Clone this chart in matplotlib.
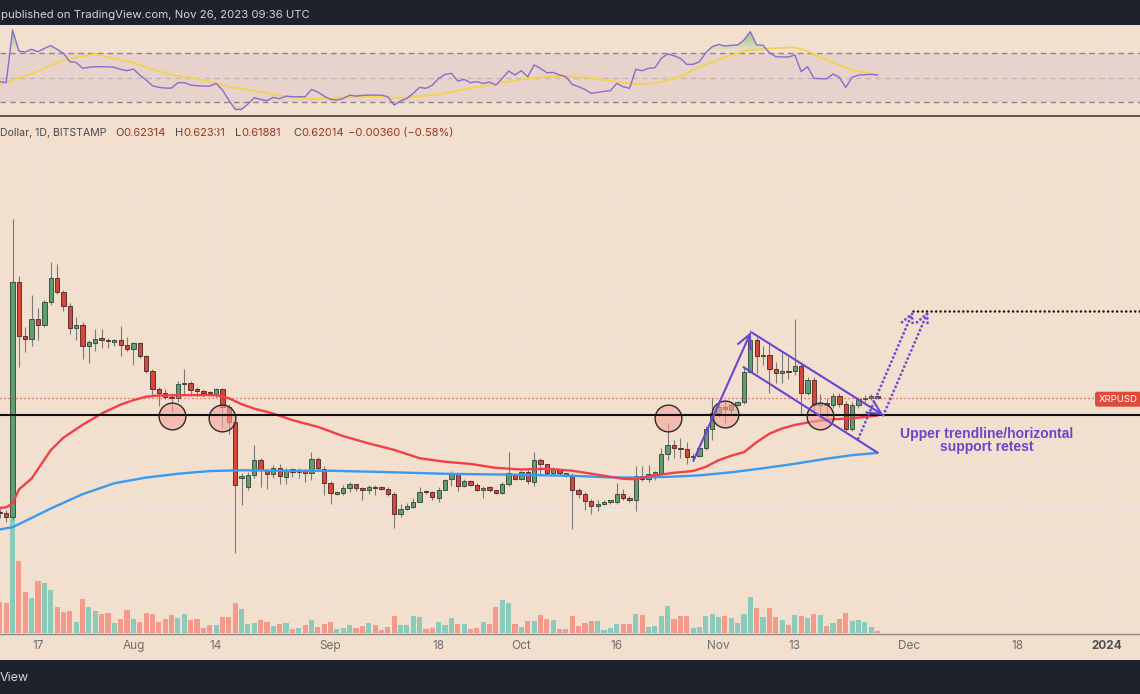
import numpy as np
import pandas as pd
import matplotlib
matplotlib.use("Agg")
import matplotlib.pyplot as plt
import matplotlib.dates as mdates
import matplotlib.transforms as mtransforms
from matplotlib.patches import Rectangle, FancyBboxPatch
from matplotlib.lines import Line2D
from matplotlib.path import Path
from matplotlib.ticker import NullLocator

# ---------------- data ----------------
start_date = "2023-07-11"
opens = [0.477, 0.475, 0.471, 0.812, 0.716, 0.711, 0.744, 0.734, 0.775, 0.818,
         0.793, 0.767, 0.730, 0.735, 0.700, 0.705, 0.712, 0.710, 0.707, 0.709,
         0.701, 0.695, 0.704, 0.683, 0.661, 0.634, 0.627, 0.622, 0.620, 0.641,
         0.642, 0.632, 0.631, 0.628, 0.624, 0.633, 0.608, 0.587, 0.516, 0.505,
         0.519, 0.538, 0.525, 0.520, 0.528, 0.517, 0.526, 0.523, 0.524, 0.522,
         0.539, 0.527, 0.510, 0.497, 0.498, 0.504, 0.508, 0.504, 0.502, 0.505,
         0.504, 0.503, 0.497, 0.474, 0.480, 0.482, 0.488, 0.500, 0.499, 0.492,
         0.502, 0.514, 0.520, 0.506, 0.512, 0.507, 0.501, 0.505, 0.501, 0.498,
         0.509, 0.519, 0.514, 0.523, 0.511, 0.537, 0.532, 0.522, 0.526, 0.521,
         0.518, 0.502, 0.497, 0.489, 0.483, 0.486, 0.488, 0.488, 0.497, 0.492,
         0.490, 0.518, 0.514, 0.520, 0.522, 0.545, 0.557, 0.553, 0.551, 0.541,
         0.543, 0.553, 0.577, 0.599, 0.608, 0.604, 0.611, 0.614, 0.659, 0.710,
         0.684, 0.686, 0.664, 0.657, 0.661, 0.660, 0.668, 0.628, 0.647, 0.611,
         0.613, 0.610, 0.623, 0.612, 0.578, 0.610, 0.619, 0.621, 0.62314]
highs = [0.480, 0.479, 0.938, 0.822, 0.731, 0.787, 0.764, 0.779, 0.850, 0.846,
         0.797, 0.772, 0.749, 0.740, 0.709, 0.727, 0.728, 0.713, 0.711, 0.733,
         0.715, 0.706, 0.706, 0.686, 0.663, 0.636, 0.634, 0.627, 0.646, 0.664,
         0.646, 0.637, 0.633, 0.631, 0.635, 0.635, 0.612, 0.590, 0.522, 0.523,
         0.556, 0.540, 0.527, 0.531, 0.532, 0.528, 0.528, 0.528, 0.527, 0.548,
         0.541, 0.530, 0.512, 0.500, 0.507, 0.511, 0.509, 0.505, 0.507, 0.507,
         0.506, 0.505, 0.499, 0.485, 0.487, 0.492, 0.505, 0.502, 0.500, 0.505,
         0.514, 0.524, 0.521, 0.514, 0.513, 0.510, 0.506, 0.506, 0.502, 0.511,
         0.548, 0.520, 0.525, 0.525, 0.547, 0.540, 0.533, 0.529, 0.527, 0.522,
         0.521, 0.504, 0.499, 0.491, 0.490, 0.490, 0.490, 0.510, 0.503, 0.495,
         0.530, 0.530, 0.531, 0.524, 0.553, 0.585, 0.563, 0.566, 0.560, 0.546,
         0.557, 0.582, 0.620, 0.618, 0.618, 0.615, 0.616, 0.668, 0.726, 0.714,
         0.700, 0.703, 0.675, 0.690, 0.682, 0.745, 0.672, 0.652, 0.652, 0.626,
         0.620, 0.627, 0.628, 0.616, 0.614, 0.622, 0.625, 0.626, 0.62331]
lows = [0.470, 0.466, 0.468, 0.667, 0.690, 0.700, 0.709, 0.731, 0.770, 0.790,
        0.759, 0.719, 0.710, 0.679, 0.673, 0.692, 0.697, 0.697, 0.700, 0.683,
        0.692, 0.669, 0.680, 0.658, 0.624, 0.609, 0.619, 0.600, 0.615, 0.624,
        0.623, 0.623, 0.622, 0.624, 0.622, 0.579, 0.571, 0.433, 0.484, 0.502,
        0.516, 0.505, 0.503, 0.515, 0.508, 0.508, 0.517, 0.516, 0.511, 0.513,
        0.524, 0.496, 0.485, 0.496, 0.496, 0.499, 0.500, 0.490, 0.497, 0.496,
        0.502, 0.495, 0.459, 0.471, 0.479, 0.481, 0.488, 0.497, 0.490, 0.488,
        0.501, 0.506, 0.500, 0.505, 0.506, 0.500, 0.492, 0.499, 0.497, 0.497,
        0.506, 0.513, 0.513, 0.508, 0.506, 0.520, 0.520, 0.518, 0.519, 0.517,
        0.458, 0.492, 0.479, 0.474, 0.478, 0.484, 0.486, 0.485, 0.490, 0.488,
        0.478, 0.512, 0.511, 0.513, 0.520, 0.537, 0.540, 0.540, 0.533, 0.538,
        0.541, 0.550, 0.563, 0.594, 0.586, 0.596, 0.609, 0.612, 0.657, 0.657,
        0.670, 0.627, 0.642, 0.642, 0.648, 0.655, 0.596, 0.624, 0.598, 0.589,
        0.590, 0.606, 0.608, 0.575, 0.575, 0.606, 0.615, 0.617, 0.61881]
closes = [0.475, 0.471, 0.812, 0.716, 0.711, 0.744, 0.734, 0.775, 0.818, 0.793,
          0.767, 0.730, 0.735, 0.700, 0.706, 0.711, 0.710, 0.708, 0.709, 0.702,
          0.695, 0.704, 0.683, 0.661, 0.634, 0.627, 0.622, 0.620, 0.641, 0.643,
          0.632, 0.631, 0.628, 0.627, 0.633, 0.608, 0.587, 0.507, 0.518, 0.519,
          0.538, 0.525, 0.520, 0.528, 0.518, 0.525, 0.523, 0.524, 0.522, 0.539,
          0.528, 0.510, 0.498, 0.499, 0.504, 0.508, 0.504, 0.502, 0.505, 0.504,
          0.503, 0.497, 0.474, 0.480, 0.483, 0.488, 0.499, 0.499, 0.493, 0.502,
          0.513, 0.520, 0.506, 0.512, 0.507, 0.501, 0.504, 0.501, 0.498, 0.509,
          0.521, 0.514, 0.523, 0.512, 0.538, 0.532, 0.522, 0.526, 0.522, 0.518,
          0.502, 0.497, 0.489, 0.483, 0.486, 0.488, 0.489, 0.497, 0.492, 0.490,
          0.518, 0.514, 0.520, 0.523, 0.545, 0.557, 0.553, 0.551, 0.541, 0.543,
          0.553, 0.577, 0.599, 0.608, 0.605, 0.611, 0.614, 0.659, 0.710, 0.684,
          0.686, 0.664, 0.657, 0.660, 0.659, 0.668, 0.628, 0.647, 0.611, 0.613,
          0.610, 0.623, 0.612, 0.578, 0.610, 0.619, 0.621, 0.62374, 0.62014]
volumes = [95, 90, 345, 218, 123, 107, 156, 151, 130, 80,
           65, 68, 34, 103, 80, 66, 57, 61, 32, 42,
           70, 42, 35, 60, 57, 35, 42, 55, 45, 58,
           41, 42, 15, 25, 25, 48, 49, 90, 73, 29,
           31, 40, 34, 23, 28, 32, 12, 15, 25, 40,
           19, 29, 35, 12, 15, 24, 16, 22, 32, 25,
           10, 20, 51, 26, 26, 52, 48, 12, 16, 35,
           26, 47, 29, 28, 13, 16, 34, 28, 80, 100,
           92, 28, 20, 38, 38, 54, 43, 40, 13, 13,
           51, 22, 31, 37, 38, 10, 16, 28, 28, 28,
           58, 55, 18, 22, 51, 82, 42, 51, 51, 16,
           19, 51, 58, 48, 51, 45, 32, 57, 109, 76,
           48, 76, 49, 40, 25, 55, 52, 45, 57, 55,
           22, 30, 42, 61, 38, 40, 35, 20, 8]
rsi_values = [46.8, 46.0, 88.6, 71.6, 70.8, 73.0, 71.0, 73.8, 76.0, 73.0,
              69.7, 63.0, 62.4, 57.6, 58.4, 58.9, 58.9, 58.9, 58.4, 56.8,
              55.7, 57.0, 52.2, 48.1, 43.5, 42.2, 41.6, 41.6, 46.0, 46.0,
              44.0, 43.5, 43.2, 43.2, 45.4, 40.0, 31.9, 24.3, 24.3, 28.6,
              33.8, 32.4, 31.4, 34.0, 33.0, 35.1, 34.6, 34.6, 34.6, 40.5,
              38.4, 35.1, 32.4, 31.9, 33.2, 35.9, 35.1, 35.7, 35.9, 35.9,
              35.9, 34.6, 27.8, 31.1, 33.2, 37.3, 42.2, 41.4, 44.0, 49.5,
              52.7, 53.5, 47.3, 48.6, 46.0, 46.8, 45.4, 46.5, 44.0, 49.5,
              55.4, 52.2, 55.7, 50.8, 60.3, 57.6, 54.0, 54.3, 52.2, 50.8,
              44.6, 42.7, 40.5, 37.3, 38.1, 38.9, 39.5, 45.4, 42.7, 41.4,
              56.8, 55.7, 57.6, 58.1, 65.7, 69.2, 67.8, 65.7, 60.8, 60.8,
              63.0, 70.3, 75.1, 77.0, 75.7, 76.2, 76.5, 80.5, 87.3, 76.5,
              76.2, 70.3, 67.0, 66.8, 66.8, 68.4, 54.9, 58.9, 49.5, 49.2,
              49.2, 53.0, 50.3, 42.2, 50.3, 52.2, 52.4, 52.7, 52.2]
rsi_ma_dates = ["2023-07-11", "2023-07-13", "2023-07-16", "2023-07-18", "2023-07-21",
                "2023-07-24", "2023-07-26", "2023-07-28", "2023-08-01", "2023-08-04",
                "2023-08-07", "2023-08-12", "2023-08-16", "2023-08-21", "2023-08-25",
                "2023-08-29", "2023-09-03", "2023-09-08", "2023-09-12", "2023-09-18",
                "2023-09-23", "2023-09-28", "2023-10-02", "2023-10-07", "2023-10-11",
                "2023-10-16", "2023-10-19", "2023-10-22", "2023-10-26", "2023-10-29",
                "2023-11-02", "2023-11-05", "2023-11-09", "2023-11-13", "2023-11-15",
                "2023-11-18", "2023-11-22", "2023-11-26"]
rsi_ma_values = [44.9, 48.1, 53.0, 57.6, 64.3, 67.6, 69.2, 66.5, 62.2, 56.8,
                 52.2, 48.1, 42.7, 38.6, 34.6, 32.7, 34.0, 35.1, 33.5, 36.5,
                 41.4, 46.0, 49.5, 51.4, 50.3, 46.8, 44.9, 45.4, 50.8, 58.9,
                 66.5, 71.6, 73.8, 74.6, 71.5, 64.3, 56.2, 52.2]
ma50_dates = ["2023-07-11", "2023-07-12", "2023-07-13", "2023-07-14", "2023-07-16",
              "2023-07-19", "2023-07-21", "2023-07-24", "2023-07-27", "2023-07-30",
              "2023-08-01", "2023-08-03", "2023-08-05", "2023-08-10", "2023-08-14",
              "2023-08-16", "2023-08-18", "2023-08-20", "2023-08-23", "2023-08-26",
              "2023-08-30", "2023-09-03", "2023-09-07", "2023-09-11", "2023-09-15",
              "2023-09-19", "2023-09-23", "2023-09-27", "2023-10-01", "2023-10-05",
              "2023-10-09", "2023-10-13", "2023-10-17", "2023-10-19", "2023-10-21",
              "2023-10-25", "2023-10-28", "2023-10-30", "2023-11-01", "2023-11-03",
              "2023-11-05", "2023-11-07", "2023-11-09", "2023-11-11", "2023-11-13",
              "2023-11-16", "2023-11-19", "2023-11-22", "2023-11-26"]
ma50_values = [0.481, 0.4818, 0.486, 0.502, 0.515,
               0.5498, 0.566, 0.583, 0.5984, 0.611,
               0.6173, 0.6223, 0.6240, 0.6245, 0.6245,
               0.6201, 0.6116, 0.6053, 0.5984, 0.5894,
               0.5803, 0.5680, 0.5585, 0.5502, 0.5397,
               0.5353, 0.5326, 0.5278, 0.5258, 0.5267,
               0.5243, 0.5195, 0.5146, 0.5140, 0.5177,
               0.5218, 0.5240, 0.5290, 0.5372, 0.5428,
               0.5473, 0.5601, 0.5712, 0.5782, 0.5829,
               0.5877, 0.5905, 0.5920, 0.5957]
ma200_dates = ["2023-07-11", "2023-07-13", "2023-07-15", "2023-07-19", "2023-07-24",
               "2023-07-29", "2023-08-03", "2023-08-08", "2023-08-13", "2023-08-18",
               "2023-08-25", "2023-09-01", "2023-09-09", "2023-09-19", "2023-09-29",
               "2023-10-09", "2023-10-15", "2023-10-19", "2023-10-24", "2023-10-29",
               "2023-11-03", "2023-11-08", "2023-11-13", "2023-11-18", "2023-11-22",
               "2023-11-26"]
ma200_values = [0.4577, 0.4601, 0.4667, 0.4804, 0.4966,
                0.5093, 0.5161, 0.5206, 0.5239, 0.5249,
                0.5243, 0.5243, 0.5228, 0.5206, 0.5196,
                0.5182, 0.5163, 0.5160, 0.5169, 0.5187,
                0.5224, 0.5273, 0.5328, 0.5391, 0.5435,
                0.5464]
support_level = 0.597
last_close = 0.62014
target_level = 0.759
circle_dates = ["2023-08-07", "2023-08-15", "2023-10-24", "2023-11-02", "2023-11-17"]
circle_prices = [0.5948, 0.5917, 0.5930, 0.5976, 0.5952]
impulse_dates = ["2023-10-28 01:00", "2023-11-06 02:00"]
impulse_prices = [0.5364, 0.7225]
upper_dates = ["2023-11-06 05:00", "2023-11-26 22:00"]
upper_prices = [0.7220, 0.5962]
lower_dates = ["2023-11-04 22:00", "2023-11-26 00:00"]
lower_prices = [0.6663, 0.5467]
path_a_dates = ["2023-11-22 23:30", "2023-12-01 15:00"]
path_a_prices = [0.5649, 0.7590]
path_b_dates = ["2023-11-26 22:00", "2023-12-03 23:45"]
path_b_prices = [0.5962, 0.7590]
target_dates = ["2023-12-01 15:00", "2024-01-06 06:30"]
note_date = "2023-12-13 05:00"
note_price = 0.5620
tick_dates = ["2023-07-17", "2023-08-01", "2023-08-14", "2023-09-01", "2023-09-18",
              "2023-10-01", "2023-10-16", "2023-11-01", "2023-11-13", "2023-12-01",
              "2023-12-18", "2024-01-01"]
tick_labels = ["17", "Aug", "14", "Sep", "18", "Oct", "16", "Nov", "13", "Dec", "18", "2024"]
price_grid = [1.091, 0.992, 0.896, 0.795, 0.698, 0.637, 0.559, 0.520, 0.479,
              0.451, 0.421, 0.390, 0.367]
legend_labels = ["O", "H", "L", "C"]
legend_values = ["0.62314", "0.62331", "0.61881", "0.62014"]
legend_change = "\u22120.00360 (\u22120.58%)"
x_range = ["2023-07-11 00:36", "2024-01-06 06:30"]

# ---------------- styling ----------------
W, H = 1140, 694
BG = "#f2dfce"
GRID = "#ede5df"
PURPLE = "#6a45cf"
UI_FONT = ["Inter", "DejaVu Sans"]

def fx(x):
    return x / W

def fy(y):
    return 1 - y / H

fig = plt.figure(figsize=(W / 100, H / 100), dpi=100, facecolor=BG)

dates = pd.date_range(start_date, periods=len(opens), freq="D")
xd = mdates.date2num(dates)
xlim = mdates.date2num(pd.to_datetime(x_range))
ticks = mdates.date2num(pd.to_datetime(tick_dates))

o = np.array(opens); h = np.array(highs); l = np.array(lows); c = np.array(closes)
up = c >= o

# ---------------- RSI panel ----------------
ax_rsi = fig.add_axes([0, fy(114), 1, 89 / H])
ax_rsi.patch.set_alpha(0)
ax_rsi.set_xlim(xlim)
ax_rsi.set_ylim(20.6, 92.7)
for s in ax_rsi.spines.values():
    s.set_visible(False)
ax_rsi.set_xticks([]); ax_rsi.set_yticks([])
for t in ticks:
    ax_rsi.axvline(t, color=GRID, lw=1, zorder=0)
for g in (25, 75):
    ax_rsi.axhline(g, color=GRID, lw=1, zorder=0)
ax_rsi.axhspan(30, 70, color="#7e57c2", alpha=0.09, lw=0, zorder=0.5)
ax_rsi.axhline(70, color="#8a8888", lw=1, ls=(0, (4, 3)), zorder=1)
ax_rsi.axhline(30, color="#8a8888", lw=1, ls=(0, (4, 3)), zorder=1)
ax_rsi.axhline(50, color="#c4b4b8", lw=1, ls=(0, (4, 3)), zorder=1)

r = np.array(rsi_values)
over = ax_rsi.fill_between(xd, 70, r, where=r >= 70, interpolate=True,
                           facecolor="none", edgecolor="none")
under = ax_rsi.fill_between(xd, 30, r, where=r <= 30, interpolate=True,
                            facecolor="none", edgecolor="none")
grad_g = np.zeros((256, 1, 4)); grad_g[..., :3] = (0.30, 0.69, 0.31)
grad_g[:, 0, 3] = np.linspace(0, 0.95, 256)
grad_r = np.zeros((256, 1, 4)); grad_r[..., :3] = (0.95, 0.21, 0.27)
grad_r[:, 0, 3] = np.linspace(0.9, 0, 256)
for coll, grad, ext in ((over, grad_g, (70, 100)), (under, grad_r, (0, 30))):
    paths = coll.get_paths()
    if len(paths):
        cp = Path.make_compound_path(*paths)
        im = ax_rsi.imshow(grad, extent=[xlim[0], xlim[1], ext[0], ext[1]],
                           origin="lower", aspect="auto", interpolation="bilinear",
                           zorder=1.5)
        im.set_clip_path(cp, transform=ax_rsi.transData)
ax_rsi.plot(mdates.date2num(pd.to_datetime(rsi_ma_dates)), rsi_ma_values,
            color="#f2d34a", lw=1.3, zorder=2)
ax_rsi.plot(xd, r, color="#8c6bd0", lw=1.0, zorder=3)
ax_rsi.set_xlim(xlim)
ax_rsi.set_ylim(20.6, 92.7)

# ---------------- main panel ----------------
rect = [0, fy(633.3), 1, (633.3 - 116) / H]
axv = fig.add_axes(rect, zorder=1)
ax = fig.add_axes(rect, zorder=2)
for a in (axv, ax):
    a.patch.set_alpha(0)
    for s in a.spines.values():
        s.set_visible(False)
axv.set_xlim(xlim)
axv.set_ylim(0, 1551)
axv.set_xticks([]); axv.set_yticks([])

ax.set_yscale("log")
ax.set_xlim(xlim)
ax.set_ylim(0.35994, 1.19126)
ax.yaxis.set_major_locator(NullLocator())
ax.yaxis.set_minor_locator(NullLocator())

# grid (drawn on the lower axes)
for t in ticks:
    axv.axvline(t, color=GRID, lw=1, zorder=0)
blend = mtransforms.blended_transform_factory(axv.transAxes, ax.transData)
axv.hlines(price_grid, 0, 1, transform=blend, color=GRID, lw=1, zorder=0)

# volume
vcol = np.where(up, "#8ccbb9", "#f39a8d")
axv.bar(xd, volumes, width=0.8, color=vcol, lw=0, zorder=2)

# candles
ax.vlines(xd, l, h, color="#7a7a7a", lw=0.8, zorder=3)
bot = np.minimum(o, c)
top = np.maximum(np.maximum(o, c), bot * 1.003)
face = np.where(up, "#5f9e73", "#d4473a")
edge = np.where(up, "#2f4236", "#4d2420")
ax.bar(xd, top - bot, bottom=bot, width=0.68, color=face, edgecolor=edge,
       linewidth=0.6, zorder=4)

# moving averages
ax.plot(mdates.date2num(pd.to_datetime(ma200_dates)), ma200_values,
        color="#3a9af0", lw=1.7, zorder=5, solid_capstyle="round")
ax.plot(mdates.date2num(pd.to_datetime(ma50_dates)), ma50_values,
        color="#f23f48", lw=1.7, zorder=5, solid_capstyle="round")

# price line
ax.axhline(last_close, color="#f0453e", lw=0.9, ls=(0, (1, 2.2)), zorder=5)

# circles
ax.scatter(mdates.date2num(pd.to_datetime(circle_dates)), circle_prices, s=370,
           facecolor=(0.965, 0.647, 0.604, 0.6), edgecolor="#2b2b2b", lw=1.0, zorder=6)

# support line
ax.axhline(support_level, color="#111111", lw=1.5, zorder=7)

def dn(lst):
    return mdates.date2num(pd.to_datetime(lst))

# impulse arrow
ia = dn(impulse_dates)
ax.annotate("", xy=(ia[1], impulse_prices[1]), xytext=(ia[0], impulse_prices[0]),
            arrowprops=dict(arrowstyle="->,head_length=0.7,head_width=0.35", color=PURPLE,
                            lw=1.5, shrinkA=0, shrinkB=0, mutation_scale=14), zorder=8)
# channel
ua = dn(upper_dates)
ax.annotate("", xy=(ua[1], upper_prices[1]), xytext=(ua[0], upper_prices[0]),
            arrowprops=dict(arrowstyle="->,head_length=0.7,head_width=0.35", color=PURPLE,
                            lw=1.5, shrinkA=0, shrinkB=0, mutation_scale=14), zorder=8)
la = dn(lower_dates)
ax.plot(la, lower_prices, color=PURPLE, lw=1.5, zorder=8, solid_capstyle="round")
# projected paths
for dl, pl in ((path_a_dates, path_a_prices), (path_b_dates, path_b_prices)):
    pa = dn(dl)
    ax.annotate("", xy=(pa[1], pl[1]), xytext=(pa[0], pl[0]),
                arrowprops=dict(arrowstyle="->,head_length=0.6,head_width=0.3",
                                color="#6f4ed6", lw=2.1, ls=(0, (0.01, 1.5)),
                                capstyle="round", shrinkA=0, shrinkB=0,
                                mutation_scale=14), zorder=8)
ta = dn(target_dates)
ax.plot(ta, [target_level, target_level], color="#111111", lw=1.8,
        ls=(0, (0.01, 1.8)), dash_capstyle="round", zorder=8)

ax.text(dn([note_date])[0], note_price, "Upper trendline/horizontal\nsupport retest",
        ha="center", va="center", multialignment="center", color=PURPLE,
        fontsize=10, fontweight="bold", family=["Liberation Sans", "DejaVu Sans"],
        linespacing=0.95, zorder=9)

# time axis
ax.set_xticks(ticks)
ax.set_xticklabels(tick_labels, family=UI_FONT)
ax.tick_params(axis="x", length=0, pad=5, labelsize=8.5, labelcolor="#6e6e6e")
ax.get_xticklabels()[-1].set_fontweight("bold")
ax.get_xticklabels()[-1].set_color("#505050")
ax.set_xlim(xlim)

# ---------------- frame pieces ----------------
fig.add_artist(Rectangle((0, fy(25)), 1, 25 / H, transform=fig.transFigure,
                         color="#1e222d", lw=0, zorder=0))
fig.add_artist(Rectangle((0, 0), 1, 34 / H, transform=fig.transFigure,
                         color="#1e222d", lw=0, zorder=0))
fig.add_artist(Line2D([0, 1], [fy(115.5)] * 2, transform=fig.transFigure,
                      color="#555555", lw=1.4, zorder=3))
fig.add_artist(Line2D([0, 1], [fy(633.5)] * 2, transform=fig.transFigure,
                      color="#8e8a88", lw=1.0, zorder=3))

fig.text(fx(1), fy(15), "published on TradingView.com, Nov 26, 2023 09:36 UTC",
         color="#d1d4dc", fontsize=8.2, va="center", ha="left", family=UI_FONT)
fig.text(fx(0), fy(678), "View", color="#d1d4dc", fontsize=9, va="center",
         ha="left", family=UI_FONT)

# legend row
LEG = "#4a4a4a"
VAL = "#9c3324"
fig.text(fx(0.5), fy(133), "Dollar, 1D, BITSTAMP", color=LEG, fontsize=7.6,
         va="center", ha="left", family=UI_FONT)
for x0, lab, val in zip((115, 175, 235, 293), legend_labels, legend_values):
    t = fig.text(fx(x0), fy(133), lab, color=LEG, fontsize=8, va="center",
                 ha="left", family=UI_FONT)
    ax_rsi.annotate(val, xy=(1, 0.5), xycoords=t, va="center", ha="left",
                    color=VAL, fontsize=8, family=UI_FONT, annotation_clip=False)
fig.text(fx(348), fy(133), legend_change, color=VAL, fontsize=8,
         va="center", ha="left", family=UI_FONT)

# price label
fig.add_artist(FancyBboxPatch((1095, H - 406.7), 60, 15,
                              boxstyle="round,pad=0,rounding_size=2.5",
                              transform=None, facecolor="#dc4b3b", edgecolor="none",
                              zorder=10))
fig.text(fx(1099), fy(399), "XRPUSD", color="white", fontsize=6.9, va="center",
         ha="left", family=UI_FONT, zorder=11)

fig.savefig("out.png", dpi=100, facecolor=BG)
